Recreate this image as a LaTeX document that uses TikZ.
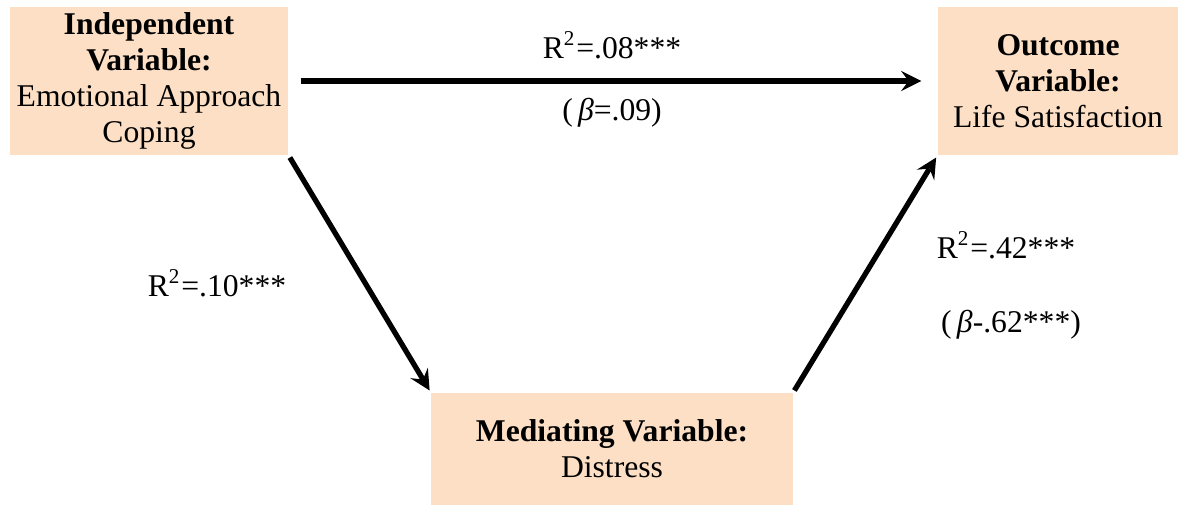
\documentclass[tikz,border=0pt]{standalone}
\usepackage{fontspec}
\setmainfont{Liberation Serif}
\usepackage{tikz}
\usetikzlibrary{arrows}

\definecolor{boxpeach}{RGB}{252,223,196}

\tikzset{
  varbox/.style={fill=boxpeach,align=center,inner sep=0pt,font=\fontsize{9}{10.2}\selectfont},
  pathlbl/.style={inner sep=0pt,font=\fontsize{9}{10.2}\selectfont},
  patharrow/.style={->,line width=1.5pt},
}

\begin{document}
\begin{tikzpicture}[x=0.01cm,y=-0.01cm,>=stealth]
			\useasboundingbox (0,0) rectangle (1186,506);
			
			% the three variables
			\node[varbox,minimum width=2.78cm,minimum height=1.48cm] (indep) at (149,81)
			{\textbf{Independent}\\\textbf{Variable:}\\Emotional Approach\\Coping};
			\node[varbox,minimum width=2.40cm,minimum height=1.48cm] (outcome) at (1058,81)
			{\textbf{Outcome}\\\textbf{Variable:}\\Life Satisfaction};
			\node[varbox,minimum width=3.61cm,minimum height=1.12cm] (mediator) at (612,449)
			{\textbf{Mediating Variable:}\\Distress};
			
			% paths
			\draw[patharrow,shorten <=3.4pt,shorten >=4.5pt] (indep) -- (outcome);
			\draw[patharrow,shorten <=0.6pt,shorten >=0.6pt] (indep.south east) -- (mediator.north west);
			\draw[patharrow,shorten <=0.6pt,shorten >=0.6pt] (mediator.north east) -- (outcome.south west);
			
			% coefficients
			\node[pathlbl] (directR) at (612,45) {R\textsuperscript{2}=.08***};
			\node[pathlbl] (directB) at (612,113) {(\,\textit{β}=.09)};
			\node[pathlbl] (aR) at (217,283) {R\textsuperscript{2}=.10***};
			\node[pathlbl] (bR) at (1006,245) {R\textsuperscript{2}=.42***};
			\node[pathlbl] (bB) at (1011,325) {(\,\textit{β}-.62***)};
		\end{tikzpicture}
\end{document}
